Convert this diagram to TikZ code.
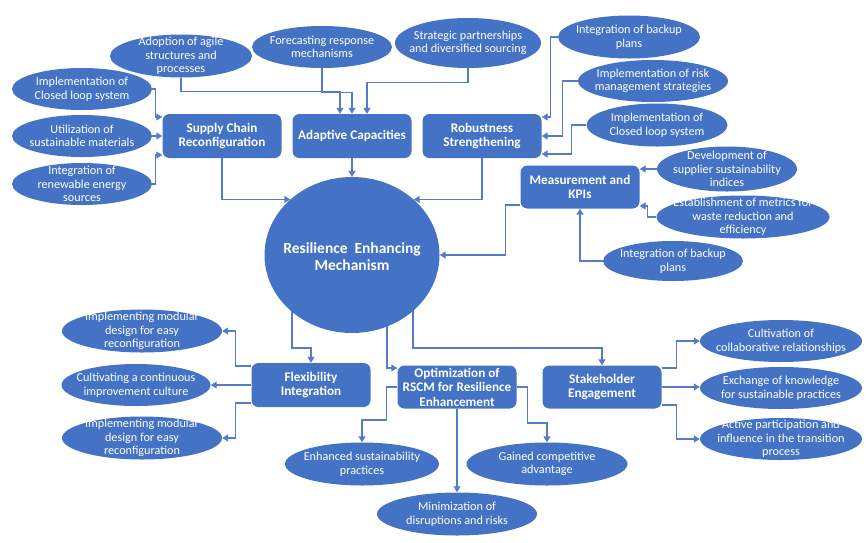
\documentclass[tikz,border=0pt]{standalone}
\usepackage{fontspec}
\setmainfont{Carlito}
\usetikzlibrary{shapes.geometric,arrows.meta,backgrounds,calc}
\definecolor{nodeblue}{RGB}{68,114,196}
\definecolor{lineblue}{RGB}{84,124,200}
\tikzset{
  ell/.style={ellipse, fill=nodeblue, inner sep=0pt},
  elltext/.style={text=white, align=center, inner sep=0pt,
    font=\fontsize{12.2}{13.6}\selectfont},
  boxnode/.style={rectangle, rounded corners=7pt, fill=nodeblue, text=white, align=center,
    inner sep=0pt, minimum width=119pt, minimum height=44pt,
    font=\fontsize{13.2}{14.5}\selectfont\bfseries},
  corenode/.style={ellipse, fill=nodeblue, inner sep=0pt,
    minimum width=175pt, minimum height=156pt},
  coretext/.style={text=white, align=center, inner sep=0pt,
    font=\fontsize{15.5}{16.8}\selectfont\bfseries},
  arr/.style={draw=lineblue, line width=1.1pt, -{Triangle[length=6pt,width=7pt]}}
}
\begin{document}
\begin{tikzpicture}[x=1pt,y=-1pt]
\useasboundingbox (0,0) rectangle (868,542);
% top ellipses
\node[ell, minimum width=142pt, minimum height=43pt, label={[elltext]center:{Adoption of agile\\structures and\\processes}}] (adopt) at (181,56) {};
\node[ell, minimum width=140pt, minimum height=42pt, label={[elltext]center:{Forecasting response\\mechanisms}}] (forecast) at (322,47) {};
\node[ell, minimum width=146pt, minimum height=50pt, label={[elltext]center:{Strategic partnerships\\and diversified sourcing}}] (strat) at (468,43) {};
\node[ell, minimum width=140pt, minimum height=42pt, label={[elltext]center:{Implementation of\\Closed loop system}}] (clL) at (82,89) {};
\node[ell, minimum width=140pt, minimum height=42pt, label={[elltext]center:{Utilization of\\sustainable materials}}] (util) at (82,136) {};
\node[ell, minimum width=140pt, minimum height=42pt, label={[elltext]center:{Integration of\\renewable energy\\sources}}] (renew) at (82,184) {};
% boxes
\node[boxnode] (scr) at (222,136) {Supply Chain\\Reconfiguration};
\node[boxnode] (adapt) at (352,136) {Adaptive Capacities};
\node[boxnode] (robust) at (482,136) {Robustness\\Strengthening};
% right top ellipses
\node[ell, minimum width=142pt, minimum height=43pt, label={[elltext]center:{Integration of backup\\plans}}] (backupA) at (629,37) {};
\node[ell, minimum width=150pt, minimum height=42pt, label={[elltext]center:{Implementation of risk\\management strategies}}] (risk) at (653,81) {};
\node[ell, minimum width=141pt, minimum height=43pt, label={[elltext]center:{Implementation of\\Closed loop system}}] (clR) at (657,125) {};
\node[boxnode, minimum height=43pt] (kpi) at (580,187) {Measurement and\\KPIs};
\node[ell, minimum width=140pt, minimum height=45pt, label={[elltext]center:{Development of\\supplier sustainability\\indices}}] (dev) at (727,169) {};
\node[ell, minimum width=173pt, minimum height=43pt, label={[elltext]center:{Establishment of metrics for\\waste reduction and\\efficiency}}] (metrics) at (743,217) {};
\node[ell, minimum width=140pt, minimum height=40pt, label={[elltext]center:{Integration of backup\\plans}}] (backupB) at (673,261) {};
% core
\node[corenode, label={[coretext, yshift=-2pt]center:{Resilience\ \ Enhancing\\Mechanism}}] (core) at (352,255) {};
% bottom
\node[ell, minimum width=160pt, minimum height=43pt, label={[elltext]center:{Implementing modular\\design for easy\\reconfiguration}}] (modA) at (142,331) {};
\node[ell, minimum width=149pt, minimum height=42pt, label={[elltext]center:{Cultivating a continuous\\improvement culture}}] (cult) at (136,385) {};
\node[ell, minimum width=160pt, minimum height=43pt, label={[elltext]center:{Implementing modular\\design for easy\\reconfiguration}}] (modB) at (142,438) {};
\node[boxnode] (flex) at (311,385) {Flexibility\\Integration};
\node[boxnode, minimum height=43pt] (opt) at (457,387) {Optimization of\\RSCM for Resilience\\Enhancement};
\node[boxnode, minimum height=43pt] (stake) at (602,387) {Stakeholder\\Engagement};
\node[ell, minimum width=154pt, minimum height=43pt, label={[elltext]center:{Enhanced sustainability\\practices}}] (enh) at (362,464) {};
\node[ell, minimum width=161pt, minimum height=43pt, label={[elltext]center:{Gained competitive\\advantage}}] (gain) at (547,464) {};
\node[ell, minimum width=160pt, minimum height=43pt, label={[elltext]center:{Minimization of\\disruptions and risks}}] (mini) at (457,514) {};
\node[ell, minimum width=162pt, minimum height=42pt, label={[elltext]center:{Cultivation of\\collaborative relationships}}] (coll) at (781,341) {};
\node[ell, minimum width=162pt, minimum height=42pt, label={[elltext]center:{Exchange of knowledge\\for sustainable practices}}] (exch) at (781,388) {};
\node[ell, minimum width=162pt, minimum height=42pt, label={[elltext]center:{Active participation and\\influence in the transition\\process}}] (act) at (781,439) {};

\begin{scope}[on background layer]
% to adaptive
\draw[arr] (adopt.south) -- ++(0,14) -| ([xshift=-12pt]adapt.north);
\draw[arr] (forecast.south) -- ++(0,24) -| (adapt.north);
\draw[arr] (strat.south) -- ++(0,14) -| ([xshift=15pt]adapt.north);
% to supply chain
\draw[arr] (clL.east) -- ++(3,0) |- ([yshift=19pt]scr.west);
\draw[arr] (util.east) -- (scr.west);
\draw[arr] (renew.east) -- ++(3,0) |- ([yshift=-19pt]scr.west);
% to robustness
\draw[arr] (backupA.west) -- ++(-7,0) |- ([yshift=19pt]robust.east);
\draw[arr] (risk.west) -- ++(-15,0) |- (robust.east);
\draw[arr] (clR.west) -- ++(-15,0) |- ([yshift=-18pt]robust.east);
% to kpi
\draw[arr] (dev.west) -- (dev.west -| kpi.east);
\draw[arr] (metrics.west) -- ++(-9,0) |- ([yshift=-19pt]kpi.east);
\draw[arr] (backupB.west) -| (kpi.south);
% to core
\draw[arr] (scr.south) |- (core.138);
\draw[arr] (adapt.south) -- (core.north);
\draw[arr] (robust.south) |- (core.42);
\draw[arr] ([yshift=-18pt]kpi.west) -- ++(-15,0) |- (core.east);
% from core
\draw[arr] ([xshift=-60pt]core.center) -- ++(0,93) -| (flex.north);
\draw[arr] ([xshift=35pt]core.center) |- ([yshift=19pt]opt.west);
\draw[arr] ([xshift=61pt]core.center) -- ++(0,93) -| (stake.north);
% from flexibility
\draw[arr] ([yshift=19pt]flex.west) -- ++(-16,0) |- (modA.east);
\draw[arr] (flex.west) -- (cult.east);
\draw[arr] ([yshift=-18pt]flex.west) -- ++(-16,0) |- (modB.east);
% from optimization
\draw[arr] (opt.west) -- ++(-10.5,0) -- ++(0,33) -| (enh.north);
\draw[arr] (opt.south) -- (mini.north);
\draw[arr] (opt.east) -- ++(11,0) -- ++(0,36) -| (gain.north);
% from stakeholder
\draw[arr] ([yshift=19pt]stake.east) -- ++(15,0) |- (coll.west);
\draw[arr] (stake.east) -- (stake.east -| exch.west);
\draw[arr] ([yshift=-18pt]stake.east) -- ++(15,0) |- (act.west);
\end{scope}
\end{tikzpicture}
\end{document}
